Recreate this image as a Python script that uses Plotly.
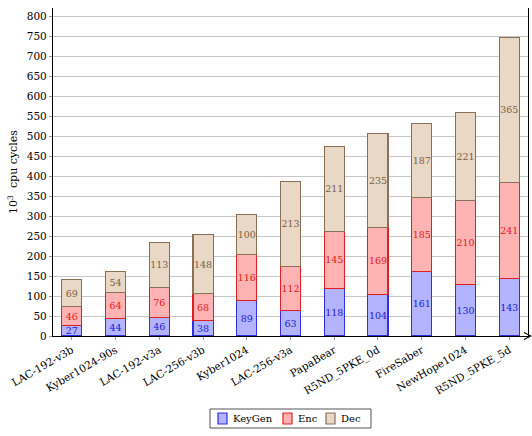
import plotly.graph_objects as go

categories = ["LAC-192-v3b", "Kyber1024-90s", "LAC-192-v3a", "LAC-256-v3b", "Kyber1024",
              "LAC-256-v3a", "PapaBear", "R5ND_5PKE_0d", "FireSaber", "NewHope1024", "R5ND_5PKE_5d"]
keygen = [27, 44, 46, 38, 89, 63, 118, 104, 161, 130, 143]
enc = [46, 64, 76, 68, 116, 112, 145, 169, 185, 210, 241]
dec = [69, 54, 113, 148, 100, 213, 211, 235, 187, 221, 365]
y_ticks = list(range(0, 801, 50))

FONT = "DejaVu Serif"
x = list(range(len(categories)))

W, H = 532, 436
ML, MR, MT, MB = 53, 4, 8, 100
PW, PH = W - ML - MR, H - MT - MB

def px(v):
    return (v - ML) / PW

def py(v):
    return (H - MB - v) / PH

series = [
    ("KeyGen", keygen, "#b3b3ff", "#3030e0", "#2020d0"),
    ("Enc", enc, "#ffb3b3", "#e02020", "#e02020"),
    ("Dec", dec, "#e8d8c5", "#8c7055", "#7a6048"),
]

fig = go.Figure()
for name, vals, fill, line, tcol in series:
    fig.add_trace(go.Bar(
        x=x, y=vals, name=name, width=0.46, showlegend=False,
        marker=dict(color=fill, line=dict(color=line, width=1.1)),
        text=[str(v) for v in vals], textposition="inside", insidetextanchor="middle",
        textangle=0, constraintext="none",
        textfont=dict(family=FONT, size=9.5, color=tcol),
    ))

fig.update_layout(
    barmode="stack",
    width=W, height=H,
    margin=dict(l=ML, r=MR, t=MT, b=MB),
    plot_bgcolor="white", paper_bgcolor="white",
    font=dict(family=FONT, size=10, color="black"),
    uniformtext=dict(minsize=9, mode="show"),
    xaxis=dict(tickmode="array", tickvals=x, ticktext=categories, tickangle=-30,
               range=[-0.43, 10.43], showline=True, linecolor="black", linewidth=1.2,
               ticks="outside", ticklen=3, tickcolor="#999999", showgrid=False,
               tickfont=dict(family=FONT, size=10.5)),
    yaxis=dict(range=[0, 822], tickmode="array", tickvals=y_ticks,
               showline=True, linecolor="black", linewidth=1.2, mirror=True,
               ticks="outside", ticklen=3, tickcolor="#999999",
               showgrid=True, gridcolor="#c8c8c8", gridwidth=1, zeroline=False,
               title=dict(text="10<sup>3</sup>  cpu cycles", font=dict(family=FONT, size=11), standoff=6),
               tickfont=dict(family=FONT, size=10.5)),
)

# x-axis arrow head
fig.add_shape(type="path", xref="paper", yref="paper", xsizemode="pixel", ysizemode="pixel",
              xanchor=1, yanchor=0, path="M -4,3.5 L 3,0 L -4,-3.5",
              line=dict(color="black", width=1.1))
fig.add_shape(type="line", xref="paper", yref="paper", x0=1.0, x1=px(530), y0=0, y1=0,
              line=dict(color="black", width=1.2))

# custom legend
fig.add_shape(type="rect", xref="paper", yref="paper", x0=px(210), x1=px(371), y0=py(409), y1=py(428),
              line=dict(color="#555555", width=1), fillcolor="white")
legend_items = [
    ("KeyGen", 218, "#b3b3ff", "#3030e0"),
    ("Enc", 283, "#ffb3b3", "#e02020"),
    ("Dec", 326, "#e8d8c5", "#8c7055"),
]
for name, sx, fill, line in legend_items:
    fig.add_shape(type="rect", xref="paper", yref="paper", x0=px(sx), x1=px(sx + 9),
                  y0=py(413), y1=py(424), line=dict(color=line, width=1.2), fillcolor=fill)
    fig.add_annotation(xref="paper", yref="paper", x=px(sx + 13), y=py(418.5), xanchor="left",
                       yanchor="middle", text=name, showarrow=False,
                       font=dict(family=FONT, size=10, color="black"))

fig.write_html("out.html")
